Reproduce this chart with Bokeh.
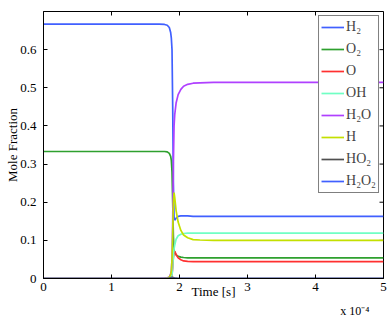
import math
from bokeh.plotting import figure
from bokeh.models import Range1d, Legend, LegendItem, Title, FixedTicker
from bokeh.embed import file_html
from bokeh.resources import INLINE

# time in units of 1e-4 s
time = [0.0, 1.0, 1.5, 1.7, 1.78, 1.82, 1.85, 1.87, 1.88, 1.89, 1.90, 1.91, 1.92,
        1.93, 1.95, 1.98, 2.02, 2.06, 2.12, 2.20, 2.30, 2.50, 3.0, 4.0, 5.0]

h2 = [0.667, 0.667, 0.667, 0.667, 0.666, 0.664, 0.658, 0.645, 0.630, 0.600, 0.450, 0.250, 0.160,
      0.153, 0.158, 0.163, 0.164, 0.164, 0.164, 0.163, 0.163, 0.163, 0.163, 0.163, 0.163]
o2 = [0.333, 0.333, 0.333, 0.333, 0.333, 0.332, 0.328, 0.320, 0.310, 0.280, 0.200, 0.110, 0.075,
      0.068, 0.062, 0.058, 0.056, 0.055, 0.054, 0.054, 0.054, 0.054, 0.054, 0.054, 0.054]
o = [0.0, 0.0, 0.0, 0.0, 0.0, 0.0, 0.0, 0.001, 0.004, 0.010, 0.030, 0.055, 0.068,
     0.071, 0.063, 0.054, 0.049, 0.046, 0.045, 0.044, 0.044, 0.044, 0.044, 0.044, 0.044]
oh = [0.0, 0.0, 0.0, 0.0, 0.0, 0.0, 0.0, 0.002, 0.005, 0.010, 0.030, 0.060, 0.078,
      0.088, 0.103, 0.112, 0.116, 0.118, 0.119, 0.119, 0.119, 0.119, 0.119, 0.119, 0.119]
h2o = [0.0, 0.0, 0.0, 0.0, 0.001, 0.002, 0.004, 0.012, 0.020, 0.050, 0.150, 0.300, 0.400,
       0.430, 0.460, 0.482, 0.496, 0.504, 0.509, 0.512, 0.513, 0.514, 0.514, 0.514, 0.514]
h = [0.0, 0.0, 0.0, 0.0, 0.0, 0.001, 0.003, 0.010, 0.020, 0.050, 0.120, 0.200, 0.225,
     0.212, 0.178, 0.148, 0.126, 0.114, 0.107, 0.102, 0.101, 0.100, 0.100, 0.100, 0.100]
ho2 = [0.0, 0.0, 0.0, 0.0, 0.0, 0.0, 0.001, 0.002, 0.002, 0.003, 0.003, 0.002, 0.002,
       0.001, 0.001, 0.0005, 0.0005, 0.0005, 0.0005, 0.0005, 0.0005, 0.0005, 0.0005, 0.0005, 0.0005]
h2o2 = [0.0, 0.0, 0.0, 0.0, 0.0, 0.0, 0.0, 0.0, 0.0, 0.0, 0.0, 0.0, 0.0,
        0.0, 0.0, 0.0, 0.0, 0.0, 0.0, 0.0, 0.0, 0.0, 0.0, 0.0, 0.0]

species = ["H₂", "O₂", "O", "OH", "H₂O", "H", "HO₂", "H₂O₂"]
series = [h2, o2, o, oh, h2o, h, ho2, h2o2]
colors = ["#4060ff", "#2ea02e", "#ff3030", "#70ffc4", "#b040ff", "#c4e000", "#505050", "#4060ff"]

x_ticks = [0, 1, 2, 3, 4, 5]
x_tick_labels = ["0", "1", "2", "3", "4", "5"]
y_ticks = [0, 0.1, 0.2, 0.3, 0.4, 0.5, 0.6]
y_tick_labels = ["0", "0.1", "0.2", "0.3", "0.4", "0.5", "0.6"]
x_scale_note = "x 10⁻⁴"

FONT = "Liberation Serif"
X_MIN, X_MAX, Y_MIN, Y_MAX = 0, 5, 0, 0.7

p = figure(frame_width=340, frame_height=267, output_backend="svg", toolbar_location=None,
           x_range=Range1d(X_MIN, X_MAX), y_range=Range1d(Y_MIN, Y_MAX),
           min_border_left=43, min_border_right=4, min_border_top=11, min_border_bottom=20)
p.grid.visible = False
p.outline_line_color = "black"
p.outline_line_width = 1
p.background_fill_color = "white"

for ax in [p.xaxis[0], p.yaxis[0]]:
    ax.major_tick_in = 4
    ax.major_tick_out = 0
    ax.minor_tick_line_color = None
    ax.axis_line_color = "black"
    ax.major_tick_line_color = "black"
    ax.major_label_text_font = FONT
    ax.major_label_text_font_size = "13px"
    ax.major_label_text_color = "black"
    ax.axis_label_text_font = FONT
    ax.axis_label_text_font_size = "13px"
    ax.axis_label_text_font_style = "normal"
    ax.axis_label_text_color = "black"

p.xaxis[0].ticker = FixedTicker(ticks=x_ticks)
p.xaxis[0].major_label_overrides = {t: s for t, s in zip(x_ticks, x_tick_labels)}
p.yaxis[0].ticker = FixedTicker(ticks=y_ticks)
p.yaxis[0].major_label_overrides = {t: s for t, s in zip(y_ticks, y_tick_labels)}
p.xaxis[0].axis_label = "Time [s]"
p.yaxis[0].axis_label = "Mole Fraction"
p.xaxis[0].major_label_standoff = 4
p.xaxis[0].axis_label_standoff = -10
p.yaxis[0].major_label_standoff = 7
p.yaxis[0].axis_label_standoff = -3

# inward tick marks on the top and right edges of the box (half of each dash is clipped)
p.scatter(x_ticks, [Y_MAX] * len(x_ticks), marker="dash", size=8, angle=math.pi / 2,
          line_color="black", line_width=1)
p.scatter([X_MAX] * len(y_ticks), y_ticks, marker="dash", size=8,
          line_color="black", line_width=1)

items = []
for name, ys, c in zip(species, series, colors):
    r = p.line(time, ys, line_color=c, line_width=1.7)
    items.append(LegendItem(label=name, renderers=[r]))

legend = Legend(items=items, location="top_right", border_line_color="black",
                border_line_width=1, background_fill_alpha=1.0,
                label_text_font=FONT, label_text_font_size="14px",
                glyph_width=23, glyph_height=14, label_height=18, label_standoff=2,
                spacing=4, padding=2, margin=4)
p.add_layout(legend)

note = Title(text=x_scale_note, align="right", offset=14, standoff=0,
             text_font=FONT, text_font_size="12px", text_font_style="normal",
             text_line_height=0.8, text_color="black")
p.add_layout(note, "below")

open("out.html", "w").write(file_html(p, INLINE))
